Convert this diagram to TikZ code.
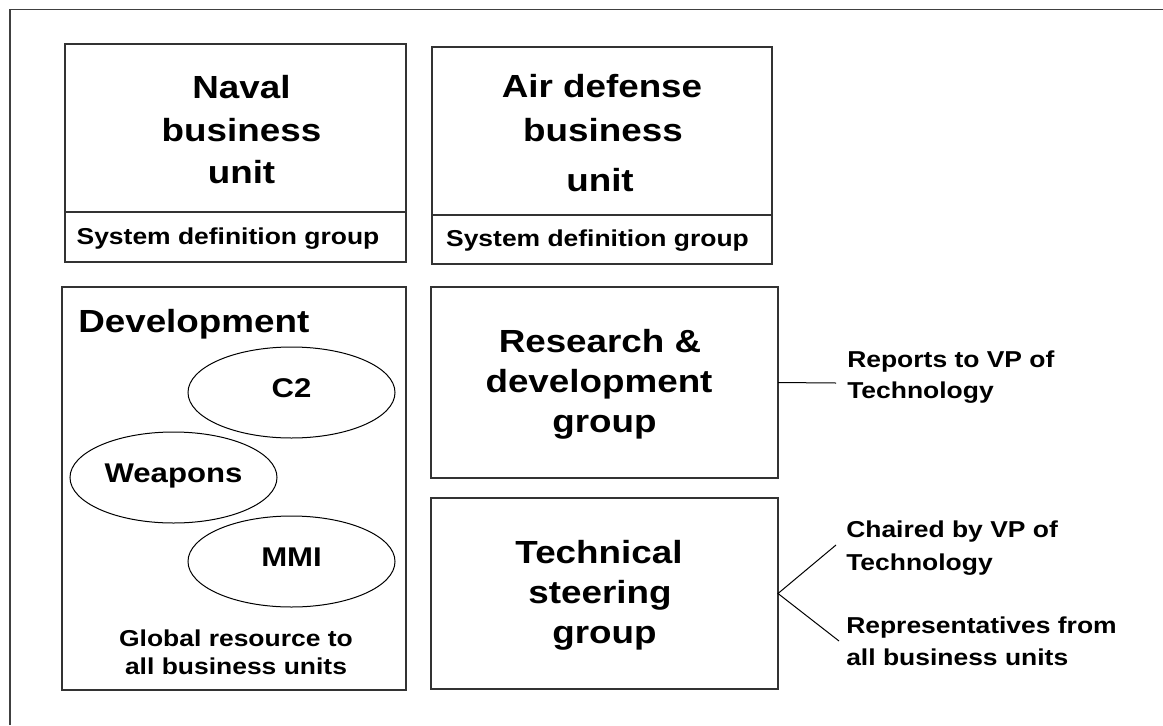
\documentclass[tikz,border=0pt]{standalone}
\usepackage{fontspec}
\setmainfont{Liberation Sans}[FakeStretch=1.15]
\usetikzlibrary{shapes.geometric}
\newcommand{\pxu}{0.75pt}
\tikzset{
  boxst/.style={draw=black!80, line width=1.1pt, rectangle, inner sep=0pt, outer sep=0pt},
  ellst/.style={draw=black, line width=0.75pt, ellipse, inner sep=0pt, outer sep=0pt,
     minimum width=207*\pxu, minimum height=91*\pxu,
     font=\fontsize{20.3}{24}\selectfont\bfseries, text height=0.716em, text depth=0pt},
  title/.style={inner sep=0pt, anchor=base, font=\fontsize{24}{28}\selectfont\bfseries},
  small/.style={inner sep=0pt, anchor=base, font=\fontsize{17.25}{20}\selectfont\bfseries},
  note/.style={small, anchor=base west},
  conn/.style={draw=black, line width=0.75pt},
  frame/.style={draw=black!75, line width=1.1pt}
}
\begin{document}
\begin{tikzpicture}[x=0.75pt, y=-0.75pt]
\useasboundingbox (0,0) rectangle (1163,725);
% outer frame (only top and left edges visible)
\draw[frame] (10,725) -- (10,9.5) -- (1163,9.5);

% Naval business unit
\node[boxst, minimum width=341*\pxu, minimum height=218*\pxu] (naval) at (235.5,153) {};
\draw[boxst] (65,212) -- (406,212);
\node[title] (naval1) at (241.5,98) {Naval};
\node[title] (naval2) at (241.5,141) {business};
\node[title] (naval3) at (241.5,183) {unit};
\node[small] (navalsdg) at (228,244) {System definition group};

% Air defense business unit
\node[boxst, minimum width=340*\pxu, minimum height=217*\pxu] (air) at (602,155.5) {};
\draw[boxst] (432,215) -- (772,215);
\node[title] (air1) at (602,97) {Air defense};
\node[title] (air2) at (603,141) {business};
\node[title] (air3) at (600,191) {unit};
\node[small] (airsdg) at (597.5,246) {System definition group};

% Development
\node[boxst, minimum width=344*\pxu, minimum height=403*\pxu] (dev) at (234,488.5) {};
\node[title, anchor=base west, font=\fontsize{24}{28}\selectfont\bfseries] (devt) at (78,332) {Development};
\node[ellst] (c2) at (291.5,392.5) {C2};
\node[ellst] (weap) at (173.5,477.5) {Weapons};
\node[ellst] (mmi) at (291.5,561.5) {MMI};
\node[small] (glob1) at (236,646) {Global resource to};
\node[small] (glob2) at (236,674) {all business units};

% Research & development group
\node[boxst, minimum width=347*\pxu, minimum height=191*\pxu] (rd) at (604.5,382.5) {};
\node[title] (rd1) at (600,352) {Research \&};
\node[title] (rd2) at (599,392) {development};
\node[title] (rd3) at (604.5,432) {group};

% Technical steering group
\node[boxst, minimum width=347*\pxu, minimum height=191*\pxu] (ts) at (604.5,593.5) {};
\node[title] (ts1) at (599,563) {Technical};
\node[title] (ts2) at (600,603) {steering};
\node[title] (ts3) at (604.5,643) {group};

% notes
\coordinate (rdend) at (836,383);
\coordinate (tsup) at (836,545);
\coordinate (tsdn) at (839,641);
\draw[conn] (rd.east) -- (rdend);
\draw[conn] (tsup) -- (ts.east) -- (tsdn);

\node[note] (rep1) at (847,367) {Reports to VP of};
\node[note] (rep2) at (847,398) {Technology};
\node[note] (ch1) at (846,537) {Chaired by VP of};
\node[note] (ch2) at (846,570) {Technology};
\node[note] (re1) at (846,633) {Representatives from};
\node[note] (re2) at (846,665) {all business units};
\end{tikzpicture}
\end{document}
